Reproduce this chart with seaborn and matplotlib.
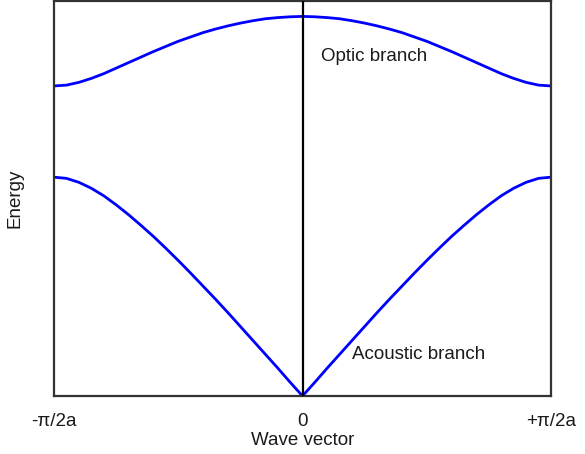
import matplotlib
matplotlib.use("Agg")
import matplotlib.pyplot as plt
import seaborn as sns
import pandas as pd

# Wave vector in units of the zone edge (pi/2a)
wave_vector = [-1.0, -0.95, -0.9, -0.85, -0.8, -0.75, -0.7, -0.65, -0.6, -0.55, -0.5,
               -0.45, -0.4, -0.35, -0.3, -0.25, -0.2, -0.15, -0.1, -0.05, 0.0,
               0.05, 0.1, 0.15, 0.2, 0.25, 0.3, 0.35, 0.4, 0.45, 0.5,
               0.55, 0.6, 0.65, 0.7, 0.75, 0.8, 0.85, 0.9, 0.95, 1.0]

# Energy of the two branches (arbitrary units)
optic_energy = [0.785, 0.787, 0.794, 0.804, 0.816, 0.830, 0.844, 0.858, 0.872, 0.885, 0.898,
                0.909, 0.920, 0.929, 0.937, 0.944, 0.950, 0.955, 0.958, 0.960, 0.961,
                0.960, 0.958, 0.955, 0.950, 0.944, 0.937, 0.929, 0.920, 0.909, 0.898,
                0.885, 0.872, 0.858, 0.844, 0.830, 0.816, 0.804, 0.794, 0.787, 0.785]
acoustic_energy = [0.554, 0.551, 0.541, 0.526, 0.507, 0.484, 0.459, 0.432, 0.404, 0.374, 0.343,
                   0.311, 0.278, 0.245, 0.211, 0.176, 0.141, 0.106, 0.071, 0.035, 0.0,
                   0.035, 0.071, 0.106, 0.141, 0.176, 0.211, 0.245, 0.278, 0.311, 0.343,
                   0.374, 0.404, 0.432, 0.459, 0.484, 0.507, 0.526, 0.541, 0.551, 0.554]

tick_positions = [-1.0, 0.0, 1.0]
tick_labels = ["-π/2a", "0", "+π/2a"]

sns.set_style("white")
plt.rcParams["font.family"] = ["Liberation Sans", "DejaVu Sans"]
text_color = "#1a1a1a"

df = pd.DataFrame({
    "k": wave_vector * 2,
    "E": optic_energy + acoustic_energy,
    "branch": ["Optic"] * len(wave_vector) + ["Acoustic"] * len(wave_vector),
})

fig = plt.figure(figsize=(5.85, 4.54), dpi=100)
ax = fig.add_axes([54 / 585, 1 - 396 / 454, 497 / 585, 395 / 454])

sns.lineplot(data=df, x="k", y="E", units="branch", estimator=None,
             color="#0000ff", linewidth=2.0, ax=ax, legend=False)

ax.axvline(0, color="black", linewidth=1.6, zorder=3)

ax.set_xlim(-1, 1)
ax.set_ylim(0, 1)
ax.set_xticks(tick_positions)
ax.set_xticklabels(tick_labels)
ax.set_yticks([])
ax.tick_params(axis="x", length=0, pad=12, labelsize=13.5, labelcolor=text_color)

for spine in ax.spines.values():
    spine.set_visible(True)
    spine.set_color("#333333")
    spine.set_linewidth(1.6)

ax.set_xlabel("Wave vector", fontsize=13.5, color=text_color, labelpad=2)
ax.set_ylabel("Energy", fontsize=13.5, color=text_color)
ax.yaxis.set_label_coords(-0.062, 0.5)

ax.text(0.075, 0.848, "Optic branch", fontsize=13.5, color=text_color,
        ha="left", va="baseline")
ax.text(0.199, 0.093, "Acoustic branch", fontsize=13.5, color=text_color,
        ha="left", va="baseline")

fig.savefig("out.png", dpi=100)
